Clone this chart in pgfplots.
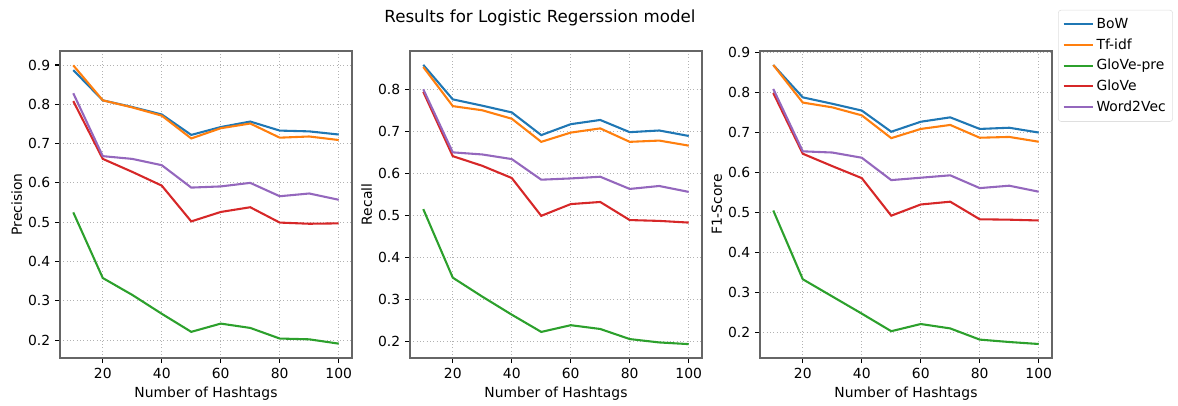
\documentclass[border=0pt]{standalone}
\usepackage{fontspec}
\setmainfont{DejaVu Sans}
\usepackage{pgfplots}
\pgfplotsset{compat=1.18}
\definecolor{cB}{HTML}{1F77B4}
\definecolor{cO}{HTML}{FF7F0E}
\definecolor{cG}{HTML}{2CA02C}
\definecolor{cR}{HTML}{D62728}
\definecolor{cP}{HTML}{9467BD}
\definecolor{spine}{HTML}{666666}
\pgfplotsset{
  panel/.style={
    scale only axis, width=210.24pt, height=221.04pt,
    xmin=5.5, xmax=104.5,
    xtick={20,40,60,80,100},
    ytick={0.2,0.3,0.4,0.5,0.6,0.7,0.8,0.9},
    yticklabel style={/pgf/number format/.cd,fixed,fixed zerofill,precision=1},
    /pgf/number format/assume math mode=true,
    tick label style={font=\fontsize{10}{12}\selectfont, black},
    label style={font=\fontsize{10}{12}\selectfont},
    xlabel={Number of Hashtags},
    axis line style={spine, line width=1pt},
    tick align=outside, tick pos=left,
    major tick length=3.5pt,
    every tick/.style={black, line width=0.8pt},
    grid=major,
    major grid style={dotted, gray!60, line width=0.6pt},
    xlabel style={yshift=0.5pt},
    ylabel style={yshift=-2.5pt},
    every axis plot/.append style={line width=1.5pt, mark=none},
  }
}
\begin{document}
\begin{tikzpicture}
\path (0,0) rectangle (848.16pt,291.6pt);
\node[font=\fontsize{12}{14}\selectfont] at (388.8pt,278.64pt) {Results for Logistic Regerssion model};
% Precision
\begin{axis}[panel, at={(43.2pt,33.84pt)}, anchor=south west,
  ymin=0.1545, ymax=0.9355, ylabel={Precision}]
\addplot[cB] coordinates {(10,0.887)(20,0.810)(30,0.793)(40,0.774)(50,0.722)(60,0.742)(70,0.756)(80,0.733)(90,0.731)(100,0.723)};
\addplot[cO] coordinates {(10,0.899)(20,0.810)(30,0.792)(40,0.771)(50,0.713)(60,0.739)(70,0.751)(80,0.715)(90,0.718)(100,0.709)};
\addplot[cG] coordinates {(10,0.525)(20,0.358)(30,0.315)(40,0.267)(50,0.221)(60,0.242)(70,0.231)(80,0.204)(90,0.202)(100,0.191)};
\addplot[cR] coordinates {(10,0.808)(20,0.661)(30,0.628)(40,0.593)(50,0.502)(60,0.526)(70,0.538)(80,0.499)(90,0.496)(100,0.497)};
\addplot[cP] coordinates {(10,0.828)(20,0.668)(30,0.661)(40,0.645)(50,0.588)(60,0.591)(70,0.600)(80,0.566)(90,0.573)(100,0.557)};
\end{axis}
% Recall
\begin{axis}[panel, at={(295.2pt,33.84pt)}, anchor=south west,
  ymin=0.161, ymax=0.891, ylabel={Recall}]
\addplot[cB] coordinates {(10,0.858)(20,0.776)(30,0.761)(40,0.745)(50,0.691)(60,0.717)(70,0.727)(80,0.698)(90,0.702)(100,0.689)};
\addplot[cO] coordinates {(10,0.853)(20,0.760)(30,0.750)(40,0.730)(50,0.675)(60,0.697)(70,0.707)(80,0.675)(90,0.678)(100,0.666)};
\addplot[cG] coordinates {(10,0.515)(20,0.352)(30,0.307)(40,0.264)(50,0.223)(60,0.239)(70,0.230)(80,0.206)(90,0.198)(100,0.194)};
\addplot[cR] coordinates {(10,0.794)(20,0.641)(30,0.618)(40,0.589)(50,0.499)(60,0.527)(70,0.532)(80,0.489)(90,0.487)(100,0.483)};
\addplot[cP] coordinates {(10,0.800)(20,0.650)(30,0.645)(40,0.634)(50,0.585)(60,0.588)(70,0.592)(80,0.563)(90,0.570)(100,0.556)};
\end{axis}
% F1
\begin{axis}[panel, at={(547.2pt,33.84pt)}, anchor=south west,
  ymin=0.136, ymax=0.904, ylabel={F1-Score},
  legend cell align=left,
  legend style={at={(1.414,1.134)}, anchor=north east, draw=gray!25, rounded corners=2pt,
    fill=white, font=\fontsize{10}{12}\selectfont,
    /tikz/every even column/.append style={column sep=2pt},
    inner xsep=3pt, inner ysep=3pt,
    nodes={inner ysep=2.9pt}},
  legend image code/.code={\draw[#1, line width=1.5pt] (0pt,0pt) -- (21pt,0pt);}]
\addplot[cB] coordinates {(10,0.869)(20,0.788)(30,0.772)(40,0.755)(50,0.702)(60,0.727)(70,0.738)(80,0.709)(90,0.712)(100,0.700)};
\addplot[cO] coordinates {(10,0.869)(20,0.775)(30,0.763)(40,0.743)(50,0.686)(60,0.709)(70,0.719)(80,0.687)(90,0.689)(100,0.677)};
\addplot[cG] coordinates {(10,0.505)(20,0.333)(30,0.290)(40,0.247)(50,0.203)(60,0.221)(70,0.210)(80,0.182)(90,0.176)(100,0.171)};
\addplot[cR] coordinates {(10,0.799)(20,0.647)(30,0.616)(40,0.586)(50,0.492)(60,0.520)(70,0.527)(80,0.483)(90,0.482)(100,0.480)};
\addplot[cP] coordinates {(10,0.809)(20,0.653)(30,0.650)(40,0.637)(50,0.581)(60,0.587)(70,0.593)(80,0.561)(90,0.567)(100,0.552)};
\legend{BoW,Tf-idf,GloVe-pre,GloVe,Word2Vec}
\end{axis}
\end{tikzpicture}
\end{document}
